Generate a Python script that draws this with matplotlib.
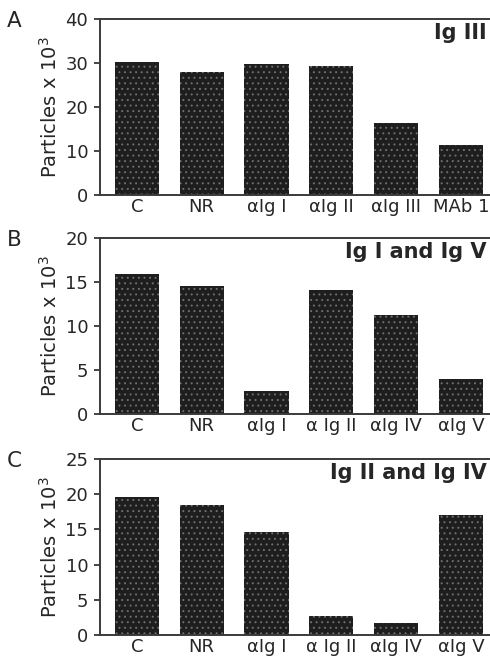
import matplotlib.pyplot as plt
import numpy as np

# the reference lettering is wide, DejaVu Sans matches its proportions best
plt.rcParams['font.family'] = ['DejaVu Sans']
plt.rcParams['hatch.color'] = '#6e6e6e'
plt.rcParams['hatch.linewidth'] = 0.7

labels_a = ["C", "NR", "αIg I", "αIg II", "αIg III", "MAb 1"]
values_a = [30.3, 28.0, 29.7, 29.4, 16.3, 11.4]

labels_b = ["C", "NR", "αIg I", "α Ig II", "αIg IV", "αIg V"]
values_b = [15.9, 14.5, 2.6, 14.1, 11.2, 4.0]

labels_c = ["C", "NR", "αIg I", "α Ig II", "αIg IV", "αIg V"]
values_c = [19.6, 18.4, 14.6, 2.7, 1.7, 17.1]

panels = [
    ("A", "Ig III", labels_a, values_a, 40, 10, 0.7063),
    ("B", "Ig I and Ig V", labels_b, values_b, 20, 5, 0.3765),
    ("C", "Ig II and Ig IV", labels_c, values_c, 25, 5, 0.0437),
]

ink = '#262626'
fig = plt.figure(figsize=(4.9, 6.64), dpi=100)

for letter, title, labels, values, ymax, step, bottom in panels:
    ax = fig.add_axes([0.204, bottom, 0.796, 0.265])
    x = np.arange(len(values))
    ax.bar(x, values, width=0.68, color='#1e1e1e', hatch='...', linewidth=0)
    ax.set_xlim(-0.57, 5.45)
    ax.set_ylim(0, ymax)
    ax.set_yticks(np.arange(0, ymax + 1, step))
    ax.set_xticks(x)
    ax.set_xticklabels(labels, fontsize=13, color=ink)
    ax.tick_params(axis='x', length=0, pad=2)
    ax.tick_params(axis='y', labelsize=13, colors=ink, length=4.5, width=1.2, pad=4)
    for side in ['left', 'top', 'bottom']:
        ax.spines[side].set_color('#3a3a3a')
        ax.spines[side].set_linewidth(1.4)
    ax.spines['right'].set_visible(False)
    ax.set_ylabel("Particles x 10$^3$", fontsize=14, color=ink, labelpad=3)
    ax.text(0.992, 0.978, title, transform=ax.transAxes, ha='right', va='top',
            fontsize=15, fontweight='bold', color=ink)
    fig.text(0.014, bottom + 0.262, letter, fontsize=15.5, color=ink, va='center')

fig.savefig("out.png", dpi=100)
